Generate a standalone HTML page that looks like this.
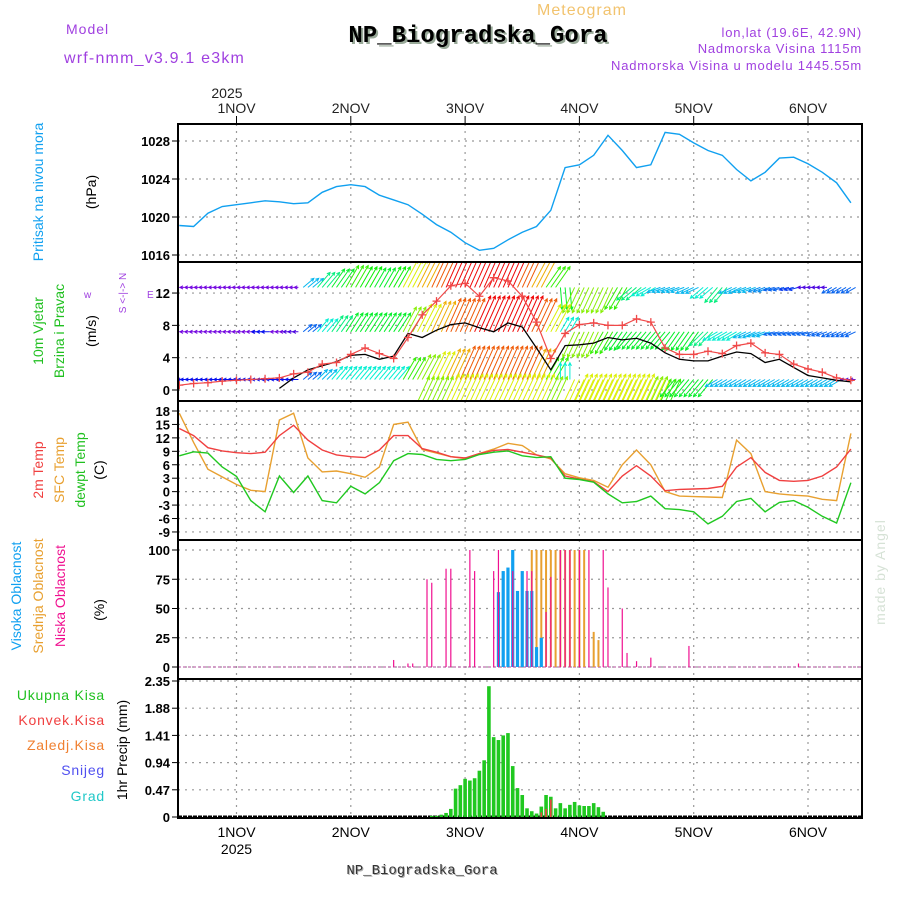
<!DOCTYPE html>
<html><head><meta charset="utf-8"><style>
html,body{margin:0;padding:0;background:#fff;}
svg{display:block;font-family:"Liberation Sans",sans-serif;}
</style></head><body>
<svg id="chart" width="900" height="900" viewBox="0 0 900 900">
<defs>
<clipPath id="cpP"><rect x="178" y="124" width="684" height="138"/></clipPath>
<clipPath id="cpW"><rect x="178" y="262" width="684" height="139"/></clipPath>
<clipPath id="cpT"><rect x="178" y="401" width="684" height="139"/></clipPath>
</defs>
<g>
<text x="582" y="15" font-size="16" fill="#f2c36e" text-anchor="middle" letter-spacing="1">Meteogram</text>
<text x="480" y="44" font-size="24" font-weight="bold" font-family="Liberation Mono,monospace" fill="#9a9" text-anchor="middle">NP_Biogradska_Gora</text>
<text x="478" y="42" font-size="24" font-weight="bold" font-family="Liberation Mono,monospace" fill="#000" text-anchor="middle">NP_Biogradska_Gora</text>
<text x="66" y="34" font-size="14" fill="#a040e0" letter-spacing="1">Model</text>
<text x="64" y="63" font-size="16" fill="#a040e0" letter-spacing="1.2">wrf-nmm_v3.9.1 e3km</text>
<text x="862" y="37" font-size="13" fill="#a040e0" text-anchor="end" letter-spacing="0.8">lon,lat (19.6E, 42.9N)</text>
<text x="862" y="53" font-size="13" fill="#a040e0" text-anchor="end" letter-spacing="0.8">Nadmorska Visina 1115m</text>
<text x="862" y="70" font-size="13" fill="#a040e0" text-anchor="end" letter-spacing="0.8">Nadmorska Visina u modelu 1445.55m</text>
</g>
<g font-size="14">
<text transform="translate(43,192) rotate(-90)" fill="#10a0f0" text-anchor="middle">Pritisak na nivou mora</text>
<text transform="translate(96,192) rotate(-90)" fill="#000" text-anchor="middle">(hPa)</text>
<text transform="translate(43,331) rotate(-90)" fill="#20c020" text-anchor="middle">10m Vjetar</text>
<text transform="translate(64,331) rotate(-90)" fill="#20c020" text-anchor="middle">Brzina i Pravac</text>
<text transform="translate(96,331) rotate(-90)" fill="#000" text-anchor="middle">(m/s)</text>
<text transform="translate(126,293) rotate(-90)" fill="#a040e0" font-size="10" text-anchor="middle">S &lt;-|-&gt; N</text>
<text x="84" y="298" font-size="10" fill="#a040e0">w</text>
<text x="147" y="298" font-size="10" fill="#a040e0">E</text>
<text transform="translate(43,470) rotate(-90)" fill="#f04040" text-anchor="middle">2m Temp</text>
<text transform="translate(64,470) rotate(-90)" fill="#e8a030" text-anchor="middle">SFC Temp</text>
<text transform="translate(85,470) rotate(-90)" fill="#20c020" text-anchor="middle">dewpt Temp</text>
<text transform="translate(104,470) rotate(-90)" fill="#000" text-anchor="middle">(C)</text>
<text transform="translate(21,596) rotate(-90)" fill="#10a0f0" text-anchor="middle">Visoka Oblacnost</text>
<text transform="translate(43,596) rotate(-90)" fill="#e8a030" text-anchor="middle">Srednja Oblacnost</text>
<text transform="translate(65,596) rotate(-90)" fill="#f01090" text-anchor="middle">Niska Oblacnost</text>
<text transform="translate(104,610) rotate(-90)" fill="#000" text-anchor="middle">(%)</text>
<text x="105" y="700" fill="#20c020" text-anchor="end" letter-spacing="0.8">Ukupna Kisa</text>
<text x="105" y="725" fill="#f04040" text-anchor="end" letter-spacing="0.8">Konvek.Kisa</text>
<text x="105" y="750" fill="#f08030" text-anchor="end" letter-spacing="0.8">Zaledj.Kisa</text>
<text x="105" y="775" fill="#5050f0" text-anchor="end" letter-spacing="0.8">Snijeg</text>
<text x="105" y="801" fill="#20c8c8" text-anchor="end" letter-spacing="0.8">Grad</text>
<text transform="translate(127,750) rotate(-90)" fill="#000" text-anchor="middle">1hr Precip (mm)</text>
</g>
<text x="423" y="875" font-size="14" font-family="Liberation Mono,monospace" fill="#aaa" text-anchor="middle">NP_Biogradska_Gora</text>
<text x="422" y="874" font-size="14" font-family="Liberation Mono,monospace" fill="#333" text-anchor="middle">NP_Biogradska_Gora</text>
<text transform="translate(885,572) rotate(-90)" font-size="14" fill="#d6e2d6" text-anchor="middle" letter-spacing="1">made by Angel</text>
<g id="grid"></g>
<g id="marks"></g>
<g id="frame"></g>
</svg>
<script>
const hours=[];for(let h=-12;h<=129;h+=3)hours.push(h);
const dayLabels=["1NOV","2NOV","3NOV","4NOV","5NOV","6NOV"];
const dayHours=[0,24,48,72,96,120];
const pressure=[1019.1,1019,1020.4,1021.1,1021.3,1021.5,1021.7,1021.6,1021.4,1021.5,1022.6,1023.2,1023.4,1023.2,1022.3,1021.8,1021.3,1020.3,1019.2,1018.4,1017.3,1016.5,1016.7,1017.6,1018.4,1019,1020.7,1025.2,1025.5,1026.5,1028.6,1027,1025.2,1025.5,1028.9,1028.7,1027.8,1027,1026.5,1025,1023.8,1024.7,1026.2,1026.3,1025.6,1024.7,1023.6,1021.5];
const pTicks=[1016,1020,1024,1028];
const windSpeed=[null,null,null,null,null,null,null,0.2,1.5,2.5,3,3.5,4.3,4.4,3.8,4.2,7,6.5,7.4,8.1,8.3,7.7,7.2,8.3,7.8,5.2,2.5,5.5,5.6,5.8,6.5,6.2,6.4,5.8,4.6,3.8,3.6,3.6,4.2,4.7,4.5,3.4,3.8,2.8,1.8,1.5,1.2,1.0];
const windGust=[0.6,0.8,0.9,1.1,1.2,1.3,1.4,1.5,2,2.2,3.2,3.4,4.4,5.2,4.5,3.9,6.5,9.3,11,12.9,13.2,11.6,13.9,13.5,11.6,8.4,3.9,7,8.1,8.3,8,8,8.8,8.4,5.2,4.4,4.4,4.8,4.5,5.5,5.8,4.6,4.4,3.2,2.6,2.2,1.5,1.2];
const wTicks=[0,4,8,12];
const rowBases=[12.7,7.2,1.3,-1.5];
const topSpd=[1.5,1.5,1.5,1.5,1.5,1.5,1.5,1.5,1.5,5,7,8,9,8.5,8,8.5,11,12,13,14,14,15,15,14,13,12,9,8,10,10,10,9,7,6,5,5,5,6,7,5,5,4.5,4,3.5,2,2,4,4];
const topDir=[180,180,180,180,180,180,180,180,180,40,50,55,60,60,60,60,62,63,65,66,66,66,66,66,65,62,55,-85,-115,-115,-115,-120,-140,-150,-160,-160,-155,-140,-130,-155,-160,-160,-165,-165,180,180,-150,-150];
const midSpd=[1.5,1.5,1.5,1.5,1.5,1.5,3,1.5,2,4,6,7,8,8,8,8,10,11,12,13,13,14,14,14,14,13,11,6,10,10,9,8,8,8,8,8,8,7,6,6,5,5,4,4,4,4,4,4];
const midDir=[180,180,180,180,180,180,180,180,180,40,50,55,57,57,57,57,62,63,65,66,66,66,66,66,66,65,62,60,-115,-115,-120,-125,-130,-130,-130,-125,-125,-135,-150,-150,-155,-160,-165,-165,-165,-160,-155,-155];
const lowSpd=[2.5,3,3,3,3,3,3,3,3,4,5,6,6,6,6,6,9,10,11,12,13,13,13,13,13,12,9,6,11,11,11,11,11,11,11,8,8,8,5,5,5,5,5,5,5,5,5,2];
const lowDir=[180,180,180,180,180,180,180,180,180,40,45,50,50,50,50,50,60,62,64,65,66,66,66,66,66,65,60,90,-115,-115,-115,-115,-115,-115,-115,-130,-130,-130,-150,-150,-150,-150,-150,-150,-150,-150,-150,180];
const subSpd=[0,0,0,0,0,0,0,0,0,0,0,0,0,0,0,0,0,10,10,11,11,11,11,11,11,11,10,0,11,11,11,11,11,10,9,0,0,0,0,0,0,0,0,0,0,0,0,0];
const subDir=[0,0,0,0,0,0,0,0,0,0,0,0,0,0,0,0,0,65,65,65,65,65,65,65,65,65,65,0,65,65,65,65,65,65,65,0,0,0,0,0,0,0,0,0,0,0,0,0];
const temp2m=[14.1,12.5,9.8,9.1,8.7,8.5,8.8,12.5,14.8,11.5,9.3,8.2,7.8,7.6,9.3,12.5,12.5,9.6,8.8,7.8,7.5,8.5,9.2,9.4,8.8,8.2,7.5,3.5,2.8,2.2,0,3.5,5.8,3.5,0.2,0.5,0.6,0.7,1.2,5.5,7.6,4.3,2.5,2.3,2.5,3.5,5.5,9.5];
const tempSfc=[17.5,11,5,3.3,1.6,0.3,0,16,17.5,7.5,4.4,4.6,4,3.2,5.5,15,15.5,9.4,8.6,7.8,7.4,8.5,9.5,10.8,10.3,8.2,7.3,4,3.1,2.5,1,6,9.3,6,0,-1,-1.1,-1.2,-1.3,11.5,8.5,0,-0.5,-0.8,-1,-1.7,-2,13];
const tempDew=[8,8.9,8.6,5.5,3.4,-2,-4.5,3.5,-0.2,3.5,-2,-2.5,1.2,-0.5,2,6.9,8.5,8.3,7.2,6.9,7.2,8.3,8.8,9.1,8,7.6,7.8,3,2.7,2.1,-0.5,-2.5,-2.2,-1,-3.8,-4,-4.5,-7.2,-5.5,-2.2,-1.5,-4.5,-2.4,-2,-3.5,-5.5,-7,2];
const tTicks=[18,15,12,9,6,3,0,-3,-6,-9];
const lowHours=[33,36,37,40,41,44,45,49,50,54,55,58,61,62,65,66,68,69,70,72,74,77,78,81,82,84,87,95,118];
const lowVals=[6,3,3,75,72,84,84,100,82,82,100,82,82,82,47,77,100,100,100,100,100,100,68,50,12,5,8,18,3];
const highHours=[55,56,57,58,59,60,61,62,63,64];
const highVals=[64,82,85,100,65,82,65,65,17,25];
const midHours=[57,58,62,63,64,65,66,67,68,69,70,71,72,73,75,76];
const midVals=[35,35,100,100,100,100,100,100,100,100,100,100,100,100,30,23];
const cTicks=[0,25,50,75,100];
const precipHours=[];for(let h=41;h<=77;h++)precipHours.push(h);
const precipTotal=[0.02,0.02,0.04,0.07,0.14,0.49,0.55,0.66,0.63,0.67,0.80,0.98,2.26,1.38,1.33,1.41,1.45,0.88,0.50,0.38,0.15,0.10,0.06,0.18,0.38,0.35,0.15,0.24,0.15,0.21,0.26,0.20,0.19,0.19,0.24,0.17,0.09];
const convHours=[64,65,66];
const convVals=[0.08,0.14,0.3];
const rTicks=["0","0.47","0.94","1.41","1.88","2.35"];

const NS="http://www.w3.org/2000/svg";
const X=h=>236.5+h*4.7625;
const pY=v=>255-(v-1016)*9.5;
const wY=v=>390-v*8.08;
const tY=v=>411+(18-v)*4.48;
const cY=v=>667-v*1.17;
const rY=v=>817-v*57.87;
const panels=[[124,262],[262,401],[401,540],[540,679],[679,818]];
function mk(tag,attrs,parent){const e=document.createElementNS(NS,tag);for(const k in attrs)e.setAttribute(k,attrs[k]);parent.appendChild(e);return e;}
const grid=document.getElementById('grid'),marks=document.getElementById('marks'),frame=document.getElementById('frame');
dayHours.forEach((h,i)=>{
  panels.forEach(p=>{const l=mk('line',{x1:X(h),x2:X(h),y1:p[0],y2:p[1],stroke:'#999','stroke-dasharray':'2,5','stroke-width':1.2},grid);
    });
  const t=mk('line',{x1:X(h),x2:X(h),y1:116,y2:124,stroke:'#000'},frame);
  
  const a=mk('text',{x:X(h),y:113,'font-size':14,'text-anchor':'middle',fill:'#222'},frame);a.textContent=dayLabels[i];
  
  const b=mk('text',{x:X(h),y:837,'font-size':14,'text-anchor':'middle',fill:'#000'},frame);b.textContent=dayLabels[i];
  
});
{const a=mk('text',{x:X(-2),y:98,'font-size':14,'text-anchor':'middle',fill:'#222'},frame);a.textContent='2025';
 
 const b=mk('text',{x:X(0),y:854,'font-size':14,'text-anchor':'middle',fill:'#000'},frame);b.textContent='2025';
 }
function yTicks(vals,fy,labels,name){
  vals.forEach((v,i)=>{const y=fy(v);
    const g=mk('line',{x1:178,x2:862,y1:y,y2:y,stroke:'#999','stroke-dasharray':'2,5','stroke-width':1.2},grid);
    
    const tk=mk('line',{x1:172,x2:178,y1:y,y2:y,stroke:'#000'},frame);
    
    const t=mk('text',{x:170,y:y+5,'font-size':13,'font-weight':'bold','text-anchor':'end',fill:'#000'},frame);
    t.textContent=labels?labels[i]:String(v);
    });
}
yTicks(pTicks,pY,null,'pressure');
yTicks(wTicks,wY,null,'wind');
yTicks(tTicks,tY,null,'temp');
yTicks(cTicks,cY,null,'cloud');
yTicks(rTicks.map(Number),rY,rTicks,'precip');
function line(vals,fy,color,clip,name,w){
  let d='';vals.forEach((v,i)=>{if(v===null)return;d+=(d?'L':'M')+X(hours[i]).toFixed(1)+','+fy(v).toFixed(1);});
  const p=mk('path',{d:d,fill:'none',stroke:color,'stroke-width':w||1.4,'clip-path':'url(#'+clip+')'},marks);
  return p;
}
line(pressure,pY,'#10a0f0','cpP','pressure-line');
const spdColor=s=>{let hh=270-(s-1.5)/12.5*270;hh=Math.max(0,Math.min(270,hh));return 'hsl('+hh+',95%,'+(hh>240?'45%':'48%')+')';};
const wg=mk('g',{'clip-path':'url(#cpW)'},marks);

[[topSpd,topDir],[midSpd,midDir],[lowSpd,lowDir],[subSpd,subDir]].forEach((row,r)=>{
  row[0].forEach((s,i)=>{if(!s)return;
    const a=row[1][i]*Math.PI/180,k=2.8,x0=X(hours[i]),y0=wY(rowBases[r]);
    const c=spdColor(s);
    for(let j=-1;j<=1;j++){
      const xs=x0+j*4.76;
      const x1=xs+Math.cos(a)*s*k,y1=y0-Math.sin(a)*s*k;
      const hl=3.5,a1=a+Math.PI*0.85,a2=a-Math.PI*0.85;
      const d='M'+xs.toFixed(1)+','+y0.toFixed(1)+'L'+x1.toFixed(1)+','+y1.toFixed(1)+
        'M'+(x1+Math.cos(a1)*hl).toFixed(1)+','+(y1-Math.sin(a1)*hl).toFixed(1)+'L'+x1.toFixed(1)+','+y1.toFixed(1)+'L'+(x1+Math.cos(a2)*hl).toFixed(1)+','+(y1-Math.sin(a2)*hl).toFixed(1);
      const p=mk('path',{d:d,stroke:c,'stroke-width':1,fill:'none'},wg);
      
    }
  });
});
line(windSpeed,wY,'#000','cpW','wind-speed-line',1.3);
line(windGust,wY,'#f04848','cpW','wind-gust-line',1.2);
windGust.forEach((v,i)=>{const x=X(hours[i]),y=wY(v);
  const p=mk('path',{d:'M'+(x-4)+','+y+'h8M'+x+','+(y-4)+'v8',stroke:'#f04848','stroke-width':1.3,'clip-path':'url(#cpW)'},marks);
  });
line(tempSfc,tY,'#e8a030','cpT','sfc-temp-line');
line(temp2m,tY,'#f04040','cpT','2m-temp-line');
line(tempDew,tY,'#20c820','cpT','dewpoint-line');
{const z=mk('line',{x1:178,x2:862,y1:cY(0),y2:cY(0),stroke:'#c070b0','stroke-dasharray':'3,2','stroke-width':1.2},marks);
 }
midHours.forEach((h,i)=>{const b=mk('rect',{x:X(h)-1,y:cY(midVals[i]),width:2,height:cY(0)-cY(midVals[i]),fill:'#e8a030'},marks);
  });
highHours.forEach((h,i)=>{const b=mk('rect',{x:X(h)-1.6,y:cY(highVals[i]),width:3.2,height:cY(0)-cY(highVals[i]),fill:'#10a0f0'},marks);
  });
lowHours.forEach((h,i)=>{const b=mk('rect',{x:X(h)-0.6,y:cY(lowVals[i]),width:1.2,height:cY(0)-cY(lowVals[i]),fill:'#f01090'},marks);
  });
{const z=mk('line',{x1:178,x2:862,y1:rY(0)-0.5,y2:rY(0)-0.5,stroke:'#000','stroke-dasharray':'4,1','stroke-width':2},marks);
 }
precipHours.forEach((h,i)=>{const v=precipTotal[i];const b=mk('rect',{x:X(h)-1.8,y:rY(v),width:3.6,height:rY(0)-rY(v),fill:'#20c820'},marks);
  });
convHours.forEach((h,i)=>{const v=convVals[i];const b=mk('rect',{x:X(h)-0.8,y:rY(v),width:1.6,height:rY(0)-rY(v),fill:'#f04040'},marks);
  });
panels.forEach((p,i)=>{const r=mk('rect',{x:178,y:p[0],width:684,height:p[1]-p[0],fill:'none',stroke:'#000','stroke-width':2},frame);
  });
</script>
</body></html>
